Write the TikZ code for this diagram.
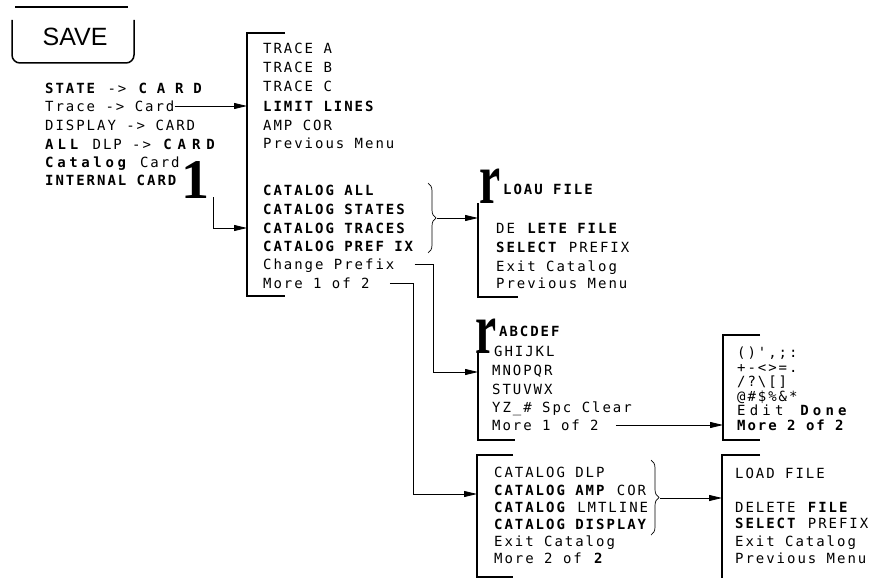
\documentclass[tikz,border=0pt]{standalone}
\usepackage{fontspec}
\setmainfont{Liberation Sans}
\newfontfamily\mf{DejaVu Sans Mono}[LetterSpace=14]
\newfontfamily\glyphfont{Liberation Serif}
\newcommand\lsp[1]{\addfontfeatures{LetterSpace=#1}}
\usetikzlibrary{arrows.meta,decorations.pathreplacing}
\tikzset{
 txt/.style={anchor=west, inner sep=0pt, text height=10pt, text depth=0pt, font=\mf\fontsize{14}{16}\selectfont},
 brk/.style={line width=1.8pt},
 arr/.style={line width=0.8pt, -{Triangle[length=13pt,width=6pt]}},
 conn/.style={line width=0.8pt},
 brc/.style={line width=0.7pt, decorate, decoration={brace, amplitude=8pt}},
 glyph/.style={inner sep=0pt, font=\glyphfont\bfseries\fontsize{56}{56}\selectfont}
}
\begin{document}
\begin{tikzpicture}[x=1pt,y=-1pt]
\useasboundingbox (0,0) rectangle (881,578);
% SAVE key
\draw[line width=1.8pt] (15,7) -- (128,7);
\draw[line width=1.5pt, rounded corners=8pt] (12,20) -- (12,63) -- (134,63) -- (134,20);
\node[inner sep=0pt, font=\fontsize{25}{25}\selectfont] (save) at (75,37) {SAVE};
% left list
\node[txt] (l1) at (45,88) {\textbf{STATE} -> \textbf{\lsp{70}CARD}};
\node[txt] (l2) at (45,106) {Trace -> Card};
\node[txt] (l3) at (45,125) {DISPLAY -> CARD};
\node[txt] (l4) at (45,144) {\textbf{\lsp{28}ALL} DLP -> \textbf{\lsp{42}CARD}};
\node[txt] (l5) at (45,162) {\textbf{\lsp{26}Catalog} Card};
\node[txt] (l6) at (45,180) {\textbf{INTERNAL CARD}};
\node[glyph] (one) at (195,180) {1};
% column 1
\draw[brk] (285,33) -- (247,33) -- (247,296) -- (285,296);
\coordinate (c1a) at (247,106);
\coordinate (c1b) at (247,228);
\node[txt] (a1) at (263,49) {TRACE A};
\node[txt] (a2) at (263,68) {TRACE B};
\node[txt] (a3) at (263,87) {TRACE C};
\node[txt] (a4) at (263,106) {\textbf{LIMIT LINES}};
\node[txt] (a5) at (263,125) {AMP COR};
\node[txt] (a6) at (263,143) {Previous Menu};
\node[txt] (a7) at (263,190) {\textbf{CATALOG ALL}};
\node[txt] (a8) at (263,209) {\textbf{CATALOG STATES}};
\node[txt] (a9) at (263,228) {\textbf{CATALOG TRACES}};
\node[txt] (a10) at (263,246) {\textbf{CATALOG PREF IX}};
\node[txt] (a11) at (263,264) {Change Prefix};
\node[txt] (a12) at (263,283) {More 1 of 2};
\draw[arr] (l2.east) -- (c1a);
\coordinate (k0) at (213,197);
\draw[arr] (k0) |- (c1b);
\draw[brc] (428,183) -- (428,253);
\coordinate (b1) at (437,218);
% column 2
\draw[brk] (478,203) -- (478,297) -- (518,297);
\node[glyph] (r1) at (490,186) {\scalebox{0.85}[1.3]{r}};
\coordinate (c2a) at (478,218);
\draw[arr] (b1) -- (c2a);
\node[txt] (b1t) at (503,189) {\textbf{LOAU FILE}};
\node[txt] (b2t) at (496,228) {DE\textbf{ LETE FILE}};
\node[txt] (b3t) at (496,247) {\textbf{SELECT} PREFIX};
\node[txt] (b4t) at (496,266) {Exit Catalog};
\node[txt] (b5t) at (496,283) {Previous Menu};
% column 3
\draw[brk] (478,352) -- (478,440) -- (515,440);
\node[glyph] (r2) at (486,336) {\scalebox{0.85}[1.3]{r}};
\coordinate (c3a) at (478,372);
\node[txt] (d1) at (499,331) {\textbf{ABCDEF}};
\node[txt] (d2) at (494,351) {GHIJKL};
\node[txt] (d3) at (492,370) {MNOPQR};
\node[txt] (d4) at (492,389) {STUVWX};
\node[txt] (d5) at (492,407) {YZ\_\# Spc Clear};
\node[txt] (d6) at (492,425) {More 1 of 2};
\coordinate (k1) at (433,372);
\draw[arr] ([xshift=20pt]a11.east) -| (k1) -- (c3a);
% column 4
\draw[brk] (513,455) -- (477,455) -- (477,577) -- (513,577);
\coordinate (c4a) at (477,494);
\node[txt] (e1) at (494,472) {CATALOG DLP};
\node[txt] (e2) at (494,490) {\textbf{CATALOG AMP} COR};
\node[txt] (e3) at (494,507) {\textbf{CATALOG} LMTLINE};
\node[txt] (e4) at (494,524) {\textbf{CATALOG DISPLAY}};
\node[txt] (e5) at (494,541) {Exit Catalog};
\node[txt] (e6) at (494,558) {More 2 of \textbf{2}};
\coordinate (k2) at (413,494);
\draw[arr] ([xshift=20pt]a12.east) -| (k2) -- (c4a);
\draw[brc] (651,460) -- (651,535);
\coordinate (b2) at (660,498);
% column 5
\draw[brk] (760,335) -- (723,335) -- (723,440) -- (760,440);
\coordinate (c5a) at (723,425);
\node[txt] (f1) at (737,352) {()',;:};
\node[txt] (f2) at (737,367) {+-<>=.};
\node[txt] (f3) at (737,381) {/?\textbackslash[]};
\node[txt] (f4) at (737,396) {@\#\$\%\&*};
\node[txt] (f5) at (737,410) {\lsp{30}Edit \textbf{Done}};
\node[txt] (f6) at (737,425) {\textbf{More 2 of 2}};
\draw[arr] ([xshift=17pt]d6.east) -- (c5a);
% column 6
\draw[brk] (760,455) -- (722,455) -- (722,578);
\coordinate (c6a) at (722,498);
\node[txt] (g1) at (735,473) {LOAD FILE};
\node[txt] (g2) at (735,507) {DELETE \textbf{FILE}};
\node[txt] (g3) at (735,523) {\textbf{SELECT} PREFIX};
\node[txt] (g4) at (735,541) {Exit Catalog};
\node[txt] (g5) at (735,558) {Previous Menu};
\draw[arr] (b2) -- (c6a);
\end{tikzpicture}
\end{document}
